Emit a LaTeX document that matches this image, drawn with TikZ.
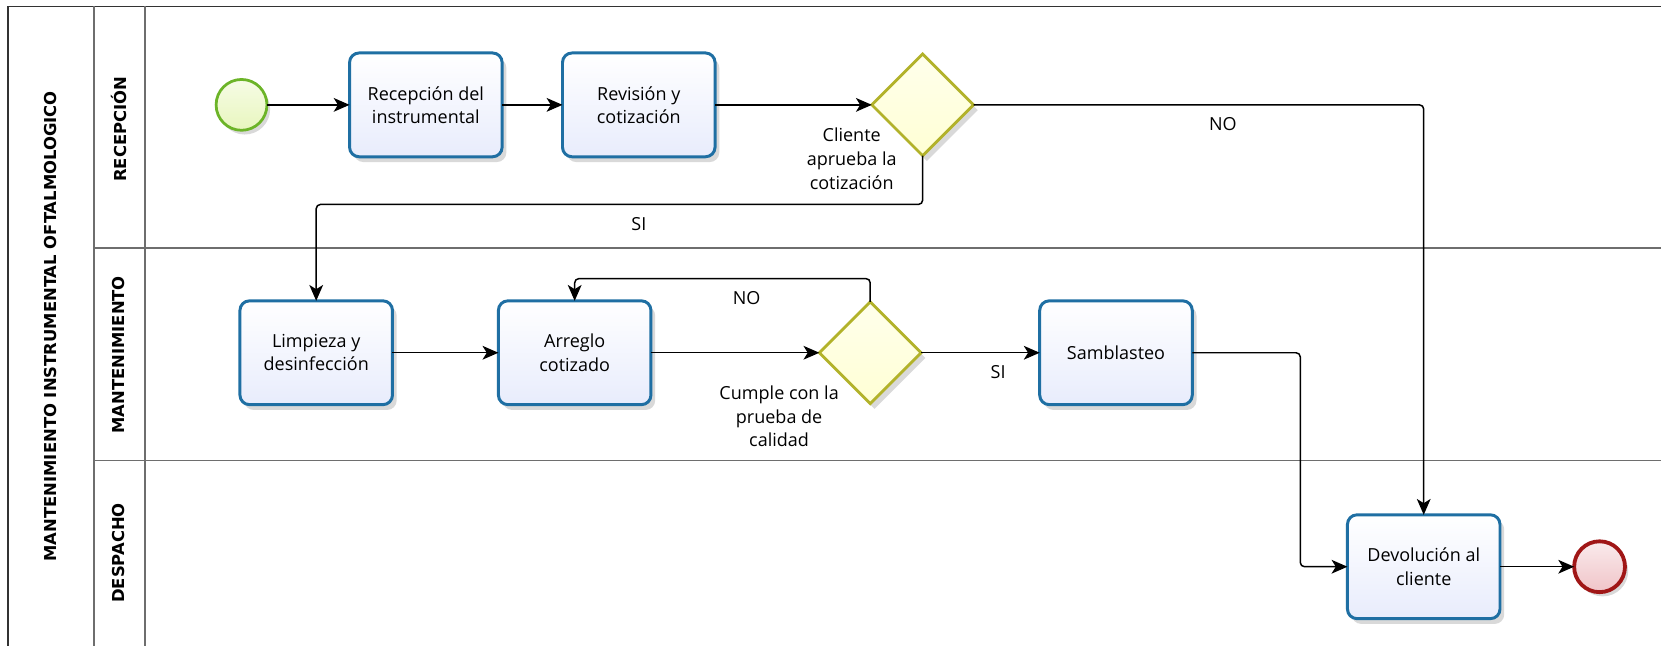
\documentclass[tikz,border=0pt]{standalone}
\usepackage{fontspec}
\setmainfont{Open Sans}
\newfontfamily\lanefont{DejaVu Sans}
\usepackage{xcolor}
\usepackage{tikz}
\usetikzlibrary{shapes.geometric, arrows.meta, positioning, calc, shadows}
\definecolor{taskline}{RGB}{31,111,163}
\definecolor{taskfill}{RGB}{232,236,252}
\definecolor{gateline}{RGB}{178,178,42}
\definecolor{gatefill}{RGB}{255,255,212}
\definecolor{startline}{RGB}{108,180,40}
\definecolor{startfill}{RGB}{232,246,190}
\definecolor{endline}{RGB}{160,22,22}
\definecolor{endfill}{RGB}{240,196,200}
\definecolor{poolline}{RGB}{110,110,110}
\tikzset{
  task/.style={rectangle, rounded corners=9pt, draw=taskline, line width=2.8pt, top color=white, bottom color=taskfill, minimum width=144pt, minimum height=98pt, align=center, outer sep=0pt, font=\fontsize{17}{22}\selectfont, drop shadow={shadow xshift=4pt, shadow yshift=-5pt, opacity=0.15, fill=black}},
  gateway/.style={diamond, aspect=1, draw=gateline, line width=2.6pt, top color=gatefill!45!white, bottom color=gatefill, minimum width=96pt, minimum height=96pt, inner sep=0pt, outer sep=0pt, drop shadow={shadow xshift=4pt, shadow yshift=-5pt, opacity=0.15, fill=black}},
  startev/.style={circle, draw=startline, line width=2.6pt, top color=startfill!40!white, bottom color=startfill, minimum size=48pt, inner sep=0pt, outer sep=0pt, drop shadow={shadow xshift=3pt, shadow yshift=-4pt, opacity=0.15, fill=black}},
  endev/.style={circle, draw=endline, line width=3.6pt, top color=endfill!35!white, bottom color=endfill, minimum size=48pt, inner sep=0pt, outer sep=0pt, drop shadow={shadow xshift=3pt, shadow yshift=-4pt, opacity=0.15, fill=black}},
  gwtext/.style={align=center, inner sep=0pt, font=\fontsize{17}{22.5}\selectfont},
  flowtext/.style={font=\fontsize{17}{20}\selectfont},
  lanetext/.style={rotate=90, font=\lanefont\bfseries\fontsize{15.5}{18}\selectfont},
  pool/.style={draw=poolline, line width=1.3pt},
  arrow/.style={-{Stealth[length=15pt, width=13pt, inset=4pt]}, line width=1.4pt, rounded corners=4pt},
}
\begin{document}
\begin{tikzpicture}[x=1pt, y=-1pt]
\useasboundingbox (0,0) rectangle (1568,609);
\draw[pool, draw=black!80, line width=1.5pt] (1568,6) -- (7.5,6) -- (7.5,612);
\draw[pool] (88.7,6) -- (88.7,612);
\draw[pool] (137,6) -- (137,612);
\draw[pool] (88.7,234) -- (1568,234);
\draw[pool] (88.7,435) -- (1568,435);
\node[lanetext] (poolname) at (48,308) {MANTENIMIENTO INSTRUMENTAL OFTALMOLOGICO};
\node[lanetext] (lanerec) at (112,122) {RECEPCIÓN};
\node[lanetext] (lanemant) at (112,335) {MANTENIMIENTO};
\node[lanetext] (lanedesp) at (112,522) {DESPACHO};

\node[startev] (start) at (228,99) {};
\node[task, right=78pt of start] (recep) {Recepción del\\instrumental};
\node[task, right=57pt of recep] (revis) {Revisión y\\cotización};
\node[gateway, right=148pt of revis] (gw1) {};
\node[gwtext] (gw1txt) at ($(gw1)+(-67,51)$) {Cliente\\aprueba la\\cotización};
\node[task] (limp) at (298.5,333) {Limpieza y\\desinfección};
\node[task, right=100pt of limp] (arreglo) {Arreglo\\cotizado};
\node[gateway, right=159pt of arreglo] (gw2) {};
\node[gwtext] (gw2txt) at ($(gw2)+(-86,60)$) {Cumple con la\\prueba de\\calidad};
\node[task, right=112pt of gw2] (sambl) {Samblasteo};
\node[task] (devol) at (1344,535) {Devolución al\\cliente};
\node[endev, right=70pt of devol] (fin) {};

\coordinate (sibend) at ($(gw1.south)+(0,46)$);
\coordinate (nobend) at ($(gw2.north)+(0,-22)$);
\coordinate (sbend) at ($(sambl.east)+(102,0)$);
\draw[arrow] (start) -- (recep);
\draw[arrow] (recep) -- (revis);
\draw[arrow] (revis) -- (gw1);
\draw[arrow] (gw1.east) -| node[flowtext, pos=0.277, below=8pt]{NO} (devol.north);
\draw[arrow] (gw1.south) -- (sibend) -| node[flowtext, pos=0.234, below=8pt]{SI} (limp.north);
\draw[arrow] (limp) -- (arreglo);
\draw[arrow] (arreglo) -- (gw2);
\draw[arrow] (gw2.north) -- (nobend) -| node[flowtext, pos=0.209, below=8pt]{NO} (arreglo.north);
\draw[arrow] (gw2) -- node[flowtext, pos=0.65, below=8pt]{SI} (sambl);
\draw[arrow] (sambl.east) -- (sbend) |- (devol.west);
\draw[arrow] (devol) -- (fin);
\end{tikzpicture}
\end{document}
